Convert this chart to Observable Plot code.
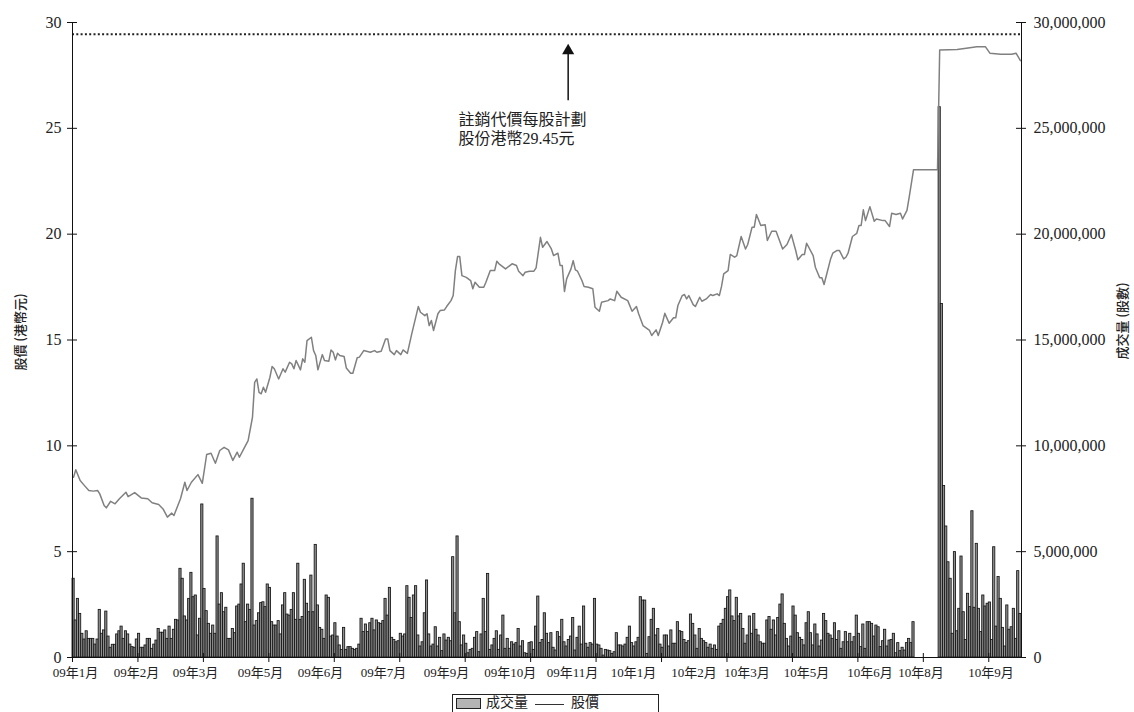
<!DOCTYPE html>
<html>
<head>
<meta charset="utf-8">
<script src="https://cdn.jsdelivr.net/npm/d3@7"></script>
<script src="https://cdn.jsdelivr.net/npm/@observablehq/plot@0.6"></script>
<style>
  body { margin: 0; background: #fff; }
  #wrap { position: relative; width: 1134px; height: 712px; overflow: hidden; font-family: 'Liberation Serif', 'Noto Sans CJK TC', serif; color: #222; }
  #legend { position: absolute; left: 452px; top: 694px; width: 207px; height: 30px; border: 1px solid #222; box-sizing: border-box; }
  #legend .sw { position: absolute; left: 3px; top: 3px; width: 23px; height: 9px; background: #b4b4b4; border: 1px solid #222; }
  #legend .t1 { position: absolute; left: 33px; top: -1px; font-size: 14px; line-height: 18px; }
  #legend .ln { position: absolute; left: 82px; top: 9px; width: 29px; border-top: 1px solid #333; }
  #legend .t2 { position: absolute; left: 118px; top: -1px; font-size: 14px; line-height: 18px; }
</style>
</head>
<body>
<div id="wrap">
  <div id="chart"></div>
  <div id="legend"><span class="sw"></span><span class="t1">成交量</span><span class="ln"></span><span class="t2">股價</span></div>
</div>
<script>
// ---- Data ----
// Trading-day index (0 = first trading day of Jan 2009) for each price reading
const priceDay = [0,1,3,5,7,9,11,12,14,15,17,19,21,24,25,28,31,34,36,39,41,43,45,46,49,51,52,54,57,59,61,63,65,67,69,71,73,75,76,78,80,82,83,84,85,86,87,88,90,91,92,94,96,97,99,100,101,102,104,105,106,107,109,110,111,112,114,115,117,118,119,120,121,122,124,125,127,128,130,131,133,136,138,139,141,143,144,145,147,148,150,151,153,155,158,159,161,162,163,164,165,167,168,170,171,173,174,175,176,177,178,180,182,183,184,186,188,189,191,193,194,195,198,201,203,204,206,207,209,211,212,214,215,217,219,220,222,223,224,225,226,228,229,230,231,233,234,236,238,239,241,242,245,246,248,249,251,254,256,258,259,261,264,265,267,268,270,271,273,275,276,277,279,280,281,282,284,285,287,288,290,292,293,295,296,297,298,300,301,303,304,306,308,309,311,312,313,315,317,318,320,322,325,327,329,331,332,334,335,336,339,340,342,343,344,347,348,350,351,353,354,355,357,359,360,361,362,363,365,367,368,371,372,374,375,377,379,380,382,383,385,396,397,405,410,414,418,420,425,430,432,434];
// Share price (HK$)
const priceValue = [8.52,8.87,8.36,8.12,7.89,7.86,7.89,7.73,7.18,7.07,7.38,7.26,7.50,7.81,7.60,7.79,7.54,7.50,7.31,7.23,7.02,6.63,6.82,6.71,7.50,8.28,7.89,8.28,8.64,8.23,9.59,9.65,9.18,9.78,9.93,9.81,9.31,9.70,9.46,9.86,10.25,11.35,13.00,13.16,12.53,12.46,12.77,12.53,13.24,13.75,13.64,13.16,13.64,13.48,13.95,13.87,13.64,14.03,13.59,14.11,13.95,14.97,15.13,14.50,14.27,13.59,14.31,14.03,14.00,14.53,14.42,14.06,14.37,14.27,14.22,13.68,13.43,13.43,14.16,14.19,14.50,14.42,14.50,14.42,14.47,15.05,15.05,14.50,14.31,14.50,14.31,14.53,14.37,15.29,16.58,16.31,16.15,16.24,15.68,15.92,15.45,16.24,16.39,16.42,16.58,16.86,17.10,18.28,18.94,18.94,18.04,17.96,17.81,17.42,17.73,17.49,17.49,17.73,18.28,18.28,18.72,18.60,18.36,18.60,18.52,18.25,18.04,18.20,18.25,18.25,18.41,19.85,19.38,19.65,19.30,18.99,19.10,18.52,18.52,17.29,17.89,18.36,18.75,18.31,18.25,17.81,17.53,17.49,17.42,16.55,16.36,16.78,16.86,16.94,16.86,17.30,17.02,16.86,16.36,16.58,16.24,15.68,15.45,15.21,15.48,15.21,15.84,16.26,15.79,16.05,16.05,16.63,17.10,17.15,16.94,17.10,16.67,16.58,17.02,16.83,16.94,17.15,17.10,17.18,17.10,17.53,18.12,18.28,19.04,18.91,18.99,19.89,19.30,19.51,20.33,20.33,20.93,20.41,20.45,19.70,20.14,20.14,19.30,19.51,19.98,19.23,18.79,19.04,19.04,19.57,18.99,18.44,17.94,17.94,17.62,18.83,19.10,19.23,19.23,18.83,18.91,19.10,19.89,20.04,20.41,20.41,21.15,20.64,21.30,20.61,20.72,20.64,20.64,20.36,20.99,20.93,20.99,20.72,21.12,21.74,23.04,23.04,28.70,28.72,28.80,28.85,28.85,28.55,28.50,28.50,28.55,28.20];
// Daily volume (millions of shares), one value per trading day
const volumeMillions = [
3.72,1.75,2.77,2.06,1.12,0.85,1.24,0.88,0.88,0.88,
0.61,0.85,2.25,1.12,1.28,2.17,0.99,0.46,0.60,0.60,
1.09,1.24,1.46,0.88,1.24,1.09,0.61,0.49,0.46,0.85,
1.12,0.46,0.46,0.57,0.88,0.88,0.41,0.61,0.80,1.35,
1.17,1.17,1.28,0.88,1.46,0.88,1.31,1.78,1.75,4.19,
3.72,1.94,1.75,2.77,4.00,2.85,2.93,1.04,1.83,7.23,
3.24,2.19,1.59,1.12,1.51,1.12,5.72,2.50,3.04,2.14,
2.35,0.88,0.88,1.35,1.15,2.41,2.50,3.45,4.43,1.67,
2.50,2.25,7.50,1.51,1.72,2.09,2.57,2.61,2.38,3.45,
3.29,1.67,1.51,1.51,1.72,1.09,2.46,3.04,2.03,1.98,
2.25,3.04,1.78,4.43,1.78,1.91,3.67,2.54,2.14,3.87,
2.14,5.32,2.46,1.40,1.31,0.88,2.93,2.82,0.99,1.04,
1.62,0.99,0.57,0.36,1.40,0.36,0.49,0.49,0.41,0.36,
0.41,0.61,1.83,1.20,1.56,1.20,1.62,1.83,1.28,1.75,
1.62,1.59,1.72,2.77,1.98,3.29,0.93,0.83,0.72,
0.77,1.12,0.99,1.09,3.37,2.82,1.87,2.93,3.37,1.04,
0.52,0.72,2.09,3.64,1.09,0.52,0.61,1.43,0.52,0.93,
0.30,1.09,0.80,0.93,0.77,4.74,2.09,5.72,1.67,0.57,
1.04,0.65,0.20,0.36,0.41,0.93,1.20,0.25,1.09,2.77,
1.20,3.95,0.36,0.57,0.88,1.24,0.36,1.04,1.98,0.41,
0.88,0.41,0.72,0.61,0.68,1.35,0.52,0.77,0.20,0.17,
0.68,0.72,0.36,1.46,2.88,0.68,0.83,2.09,1.12,0.68,
1.15,0.46,0.33,1.20,0.96,1.78,0.72,0.52,0.83,0.99,
1.87,0.33,0.93,1.46,0.61,2.41,0.65,0.46,0.68,0.61,
2.77,0.61,0.57,0.41,0.09,0.36,0.33,0.30,0.17,
0.25,1.15,0.57,0.57,0.52,0.61,0.93,1.46,0.68,0.52,
0.72,0.93,2.85,2.69,2.69,0.17,0.96,1.78,2.30,1.04,
1.35,0.61,0.46,1.04,1.04,0.52,1.28,0.65,0.65,1.67,
1.24,1.20,0.83,0.68,0.77,2.03,1.59,1.04,0.41,1.35,
0.88,0.77,0.68,0.46,0.61,0.41,0.57,0.36,1.46,
1.59,1.78,2.30,2.85,3.17,1.94,1.72,2.82,1.94,2.06,
1.35,0.65,1.04,1.94,1.12,2.06,1.31,1.04,0.72,0.65,
0.65,1.75,1.91,1.31,1.75,1.04,1.87,2.50,2.98,1.59,
0.88,0.52,0.99,2.41,1.98,1.15,0.93,0.83,0.57,1.62,
2.14,1.15,0.57,1.56,1.09,0.52,0.80,2.06,1.72,1.12,
1.04,0.88,1.62,0.83,1.24,0.41,0.72,1.20,0.72,1.12,
0.72,0.96,1.98,1.12,0.49,1.56,0.41,1.67,1.67,1.59,
0.99,1.51,1.43,0.49,0.77,1.31,0.52,0.80,0.83,1.12,
0.20,0.68,0.30,0.46,0.33,0.68,0.88,0.68,1.67,
0,0,0,0,0,0,0,0,0,0,0,
26.0,16.7,8.1,6.19,4.50,3.72,1.12,4.98,1.24,2.30,
4.77,2.14,0.83,3.01,2.38,6.91,2.35,5.37,2.30,1.20,
2.93,2.41,2.54,2.60,0.83,5.21,1.46,3.80,2.77,1.40,
0.52,2.46,1.31,1.43,2.30,0.88,4.08,2.06
];
// Axis ticks and labels
const priceTicks = [0, 5, 10, 15, 20, 25, 30];
const dayTicks = [0, 30, 60, 90, 120, 150, 180, 210, 240, 270, 300, 330, 360, 390, 420];
const monthLabels = ["09年1月","09年2月","09年3月","09年5月","09年6月","09年7月","09年9月","09年10月","09年11月","10年1月","10年2月","10年3月","10年5月","10年6月","10年8月","10年9月"];
const monthLabelDay = [1.4, 29.3, 56.4, 86.2, 113.7, 142.6, 171.4, 200.7, 229.2, 257.2, 284.9, 309.2, 336.5, 365.6, 388.9, 421.0];
const offerPrice = [29.45];
const annotationText = ["註銷代價每股計劃\n股份港幣29.45元"];
const annotationAt = [176.9, 25.0];          // [day, price] of the text block
const arrowAt = [227.2, 26.3, 28.5, 28.67];  // [day, shaft bottom, shaft top, head]
const leftTitle = ["股價 (港幣元)"];
const rightTitle = ["成交量 (股數)"];

// ---- Chart ----
const N = volumeMillions.length;
const bars = volumeMillions.map((v, i) => ({i, v})).filter(d => d.v > 0);
const price = priceDay.map((d, i) => ({d, p: priceValue[i]}));
const fmt = d3.format(",");
const serif = "'Liberation Serif', 'Noto Sans CJK TC', serif";

const chart = Plot.plot({
  width: 1134,
  height: 690,
  marginLeft: 72,
  marginRight: 113,
  marginTop: 22,
  marginBottom: 33,
  x: {domain: [0, N], axis: null},
  y: {domain: [0, 30], axis: null},
  style: {fontFamily: serif, fontSize: "16px", color: "#222", background: "white", overflow: "visible"},
  marks: [
    Plot.rect(bars, {x1: "i", x2: d => d.i + 1, y1: 0, y2: "v", fill: "#8e8e8e", stroke: "#151515", strokeWidth: 0.85}),
    Plot.line(price, {x: d => d.d + 0.5, y: "p", stroke: "#808080", strokeWidth: 1.5}),
    Plot.ruleY(offerPrice, {stroke: "#222", strokeWidth: 2, strokeDasharray: "2,2.3"}),
    // axes lines
    Plot.ruleX([0, N], {stroke: "#111"}),
    Plot.ruleY([0], {stroke: "#111"}),
    // cross ticks
    Plot.ruleY(priceTicks, {x1: 0, x2: 0, insetLeft: -5, insetRight: -5, stroke: "#111"}),
    Plot.ruleY(priceTicks, {x1: N, x2: N, insetLeft: -5, insetRight: -5, stroke: "#111"}),
    Plot.ruleX(dayTicks, {y1: 0, y2: 0, insetTop: -4, insetBottom: -5, stroke: "#111"}),
    // tick labels
    Plot.text(priceTicks, {x: 0, y: d => d, text: d => String(d), textAnchor: "end", dx: -11, fontSize: 16, fill: "#222"}),
    Plot.text(priceTicks, {x: N, y: d => d, text: d => fmt(d * 1e6), textAnchor: "start", dx: 12, fontSize: 16, fill: "#222"}),
    Plot.text(monthLabels, {x: (d, i) => monthLabelDay[i], text: d => d, frameAnchor: "bottom", dy: 19.5, fontSize: 13, textAnchor: "middle", fill: "#222"}),
    // axis titles
    Plot.text(leftTitle, {text: d => d, frameAnchor: "left", textAnchor: "middle", dx: -52, dy: -8, rotate: -90, fontSize: 13, fontWeight: 500, fontFamily: "'Noto Sans CJK TC', sans-serif", fill: "#222"}),
    Plot.text(rightTitle, {text: d => d, frameAnchor: "right", textAnchor: "middle", dx: 101, dy: -19, rotate: -90, fontSize: 13, fontWeight: 500, fontFamily: "'Noto Sans CJK TC', sans-serif", fill: "#222"}),
    // annotation
    Plot.text(annotationText, {x: annotationAt[0], y: annotationAt[1], text: d => d, textAnchor: "start", fontSize: 16, lineHeight: 1.2, fill: "#222"}),
    Plot.ruleX([arrowAt[0]], {y1: arrowAt[1], y2: arrowAt[2], stroke: "#111", strokeWidth: 1.5}),
    Plot.dot([arrowAt[0]], {x: d => d, y: arrowAt[3], symbol: "triangle", r: 4.5, fill: "#111", stroke: "none"})
  ]
});
document.getElementById("chart").appendChild(chart);
</script>
</body>
</html>
